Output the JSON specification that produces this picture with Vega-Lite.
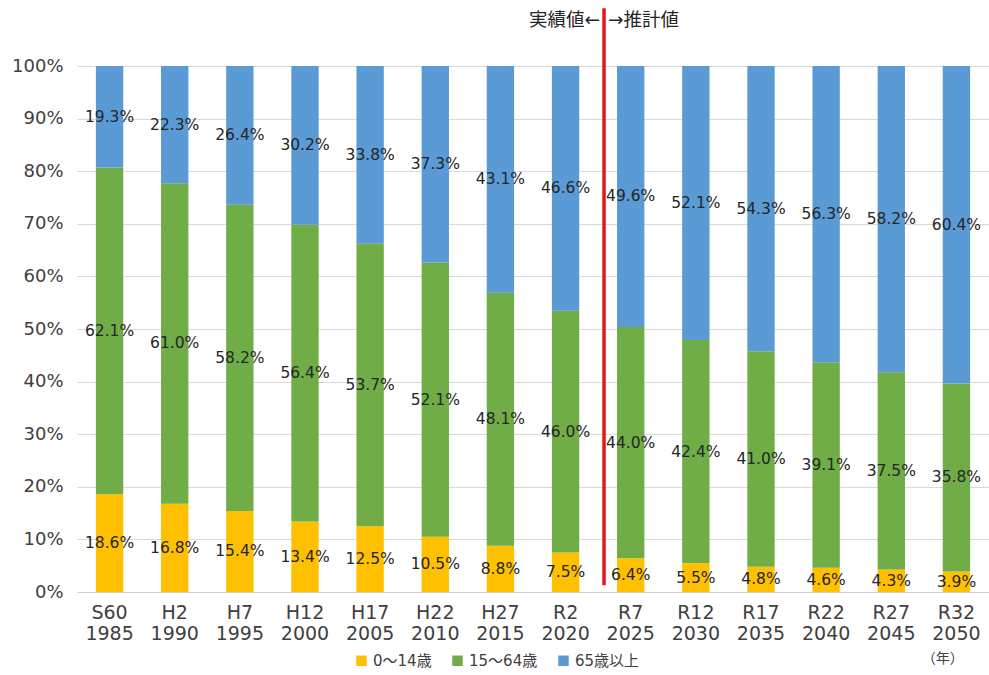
{
  "$schema": "https://vega.github.io/schema/vega-lite/v6.json",
  "width": 912,
  "height": 526,
  "autosize": {"type": "none"},
  "padding": {"left": 77, "top": 66, "right": 0, "bottom": 83},
  "background": "white",
  "config": {
    "view": {"stroke": null},
    "font": "DejaVu Sans, Noto Sans CJK JP",
    "text": {"font": "DejaVu Sans, Noto Sans CJK JP"}
  },
  "data": {
    "values": [
      {"period": "S60|1985", "group": "0～14歳", "o": 1, "pct": 18.6},
      {"period": "H2|1990", "group": "0～14歳", "o": 1, "pct": 16.8},
      {"period": "H7|1995", "group": "0～14歳", "o": 1, "pct": 15.4},
      {"period": "H12|2000", "group": "0～14歳", "o": 1, "pct": 13.4},
      {"period": "H17|2005", "group": "0～14歳", "o": 1, "pct": 12.5},
      {"period": "H22|2010", "group": "0～14歳", "o": 1, "pct": 10.5},
      {"period": "H27|2015", "group": "0～14歳", "o": 1, "pct": 8.8},
      {"period": "R2|2020", "group": "0～14歳", "o": 1, "pct": 7.5},
      {"period": "R7|2025", "group": "0～14歳", "o": 1, "pct": 6.4},
      {"period": "R12|2030", "group": "0～14歳", "o": 1, "pct": 5.5},
      {"period": "R17|2035", "group": "0～14歳", "o": 1, "pct": 4.8},
      {"period": "R22|2040", "group": "0～14歳", "o": 1, "pct": 4.6},
      {"period": "R27|2045", "group": "0～14歳", "o": 1, "pct": 4.3},
      {"period": "R32|2050", "group": "0～14歳", "o": 1, "pct": 3.9},
      {"period": "S60|1985", "group": "15～64歳", "o": 2, "pct": 62.1},
      {"period": "H2|1990", "group": "15～64歳", "o": 2, "pct": 61.0},
      {"period": "H7|1995", "group": "15～64歳", "o": 2, "pct": 58.2},
      {"period": "H12|2000", "group": "15～64歳", "o": 2, "pct": 56.4},
      {"period": "H17|2005", "group": "15～64歳", "o": 2, "pct": 53.7},
      {"period": "H22|2010", "group": "15～64歳", "o": 2, "pct": 52.1},
      {"period": "H27|2015", "group": "15～64歳", "o": 2, "pct": 48.1},
      {"period": "R2|2020", "group": "15～64歳", "o": 2, "pct": 46.0},
      {"period": "R7|2025", "group": "15～64歳", "o": 2, "pct": 44.0},
      {"period": "R12|2030", "group": "15～64歳", "o": 2, "pct": 42.4},
      {"period": "R17|2035", "group": "15～64歳", "o": 2, "pct": 41.0},
      {"period": "R22|2040", "group": "15～64歳", "o": 2, "pct": 39.1},
      {"period": "R27|2045", "group": "15～64歳", "o": 2, "pct": 37.5},
      {"period": "R32|2050", "group": "15～64歳", "o": 2, "pct": 35.8},
      {"period": "S60|1985", "group": "65歳以上", "o": 3, "pct": 19.3},
      {"period": "H2|1990", "group": "65歳以上", "o": 3, "pct": 22.3},
      {"period": "H7|1995", "group": "65歳以上", "o": 3, "pct": 26.4},
      {"period": "H12|2000", "group": "65歳以上", "o": 3, "pct": 30.2},
      {"period": "H17|2005", "group": "65歳以上", "o": 3, "pct": 33.8},
      {"period": "H22|2010", "group": "65歳以上", "o": 3, "pct": 37.3},
      {"period": "H27|2015", "group": "65歳以上", "o": 3, "pct": 43.1},
      {"period": "R2|2020", "group": "65歳以上", "o": 3, "pct": 46.6},
      {"period": "R7|2025", "group": "65歳以上", "o": 3, "pct": 49.6},
      {"period": "R12|2030", "group": "65歳以上", "o": 3, "pct": 52.1},
      {"period": "R17|2035", "group": "65歳以上", "o": 3, "pct": 54.3},
      {"period": "R22|2040", "group": "65歳以上", "o": 3, "pct": 56.3},
      {"period": "R27|2045", "group": "65歳以上", "o": 3, "pct": 58.2},
      {"period": "R32|2050", "group": "65歳以上", "o": 3, "pct": 60.4}
    ]
  },
  "encoding": {
    "x": {
      "field": "period",
      "type": "nominal",
      "sort": null,
      "scale": {"paddingInner": 0.58, "paddingOuter": 0.29},
      "axis": {
        "title": null,
        "labelAngle": 0,
        "labelExpr": "split(datum.value, '|')",
        "labelFontSize": 19,
        "labelLineHeight": 21,
        "labelColor": "#404040",
        "labelPadding": 11,
        "ticks": false,
        "domainColor": "#d0d0d0",
        "grid": false
      }
    }
  },
  "layer": [
    {
      "transform": [
        {"stack": "pct", "groupby": ["period"], "sort": [{"field": "o"}], "offset": "normalize", "as": ["y0", "y1"]}
      ],
      "mark": {"type": "bar"},
      "encoding": {
        "y": {
          "field": "y0",
          "type": "quantitative",
          "scale": {"domain": [0, 1]},
          "axis": {
            "title": null,
            "format": ".0%",
            "values": [0, 0.1, 0.2, 0.3, 0.4, 0.5, 0.6, 0.7, 0.8, 0.9, 1],
            "labelFontSize": 18,
            "labelColor": "#404040",
            "labelPadding": 14,
            "ticks": false,
            "domain": false,
            "gridColor": "#d9d9d9"
          }
        },
        "y2": {"field": "y1"},
        "color": {
          "field": "group",
          "type": "nominal",
          "sort": ["0～14歳", "15～64歳", "65歳以上"],
          "scale": {"domain": ["0～14歳", "15～64歳", "65歳以上"], "range": ["#FFC000", "#70AD47", "#5B9BD5"]},
          "legend": {
            "title": null,
            "orient": "none",
            "legendX": 277,
            "legendY": 587,
            "direction": "horizontal",
            "labelFontSize": 15,
            "labelColor": "#404040",
            "symbolType": "square",
            "symbolSize": 110,
            "symbolStrokeWidth": 0,
            "columnPadding": 18
          }
        }
      }
    },
    {
      "transform": [
        {"stack": "pct", "groupby": ["period"], "sort": [{"field": "o"}], "offset": "normalize", "as": ["y0", "y1"]},
        {"calculate": "(datum.y0 + datum.y1) / 2", "as": "mid"},
        {"calculate": "format(datum.pct, '.1f') + '%'", "as": "lbl"}
      ],
      "mark": {"type": "text", "fontSize": 15.5, "color": "#262626"},
      "encoding": {
        "y": {"field": "mid", "type": "quantitative"},
        "text": {"field": "lbl"}
      }
    },
    {
      "data": {"values": [{}]},
      "mark": {"type": "rule", "color": "#E8161B", "strokeWidth": 3.5, "clip": false, "xOffset": -13},
      "encoding": {
        "x": {"datum": "R7|2025", "bandPosition": 0},
        "y": {"datum": 1.11},
        "y2": {"datum": 0.013}
      }
    },
    {
      "data": {"values": [{"t": "実績値←"}]},
      "mark": {"type": "text", "fontSize": 18.5, "color": "#262626", "align": "right", "xOffset": -17},
      "encoding": {
        "x": {"datum": "R7|2025", "bandPosition": 0},
        "y": {"datum": 1.087},
        "text": {"field": "t"}
      }
    },
    {
      "data": {"values": [{"t": "→推計値"}]},
      "mark": {"type": "text", "fontSize": 18.5, "color": "#262626", "align": "left", "xOffset": -9},
      "encoding": {
        "x": {"datum": "R7|2025", "bandPosition": 0},
        "y": {"datum": 1.087},
        "text": {"field": "t"}
      }
    },
    {
      "data": {"values": [{"t": "（年）"}]},
      "mark": {"type": "text", "fontSize": 14, "color": "#404040"},
      "encoding": {
        "x": {"datum": "R32|2050", "bandPosition": 0},
        "y": {"datum": -0.128},
        "text": {"field": "t"}
      }
    }
  ]
}
